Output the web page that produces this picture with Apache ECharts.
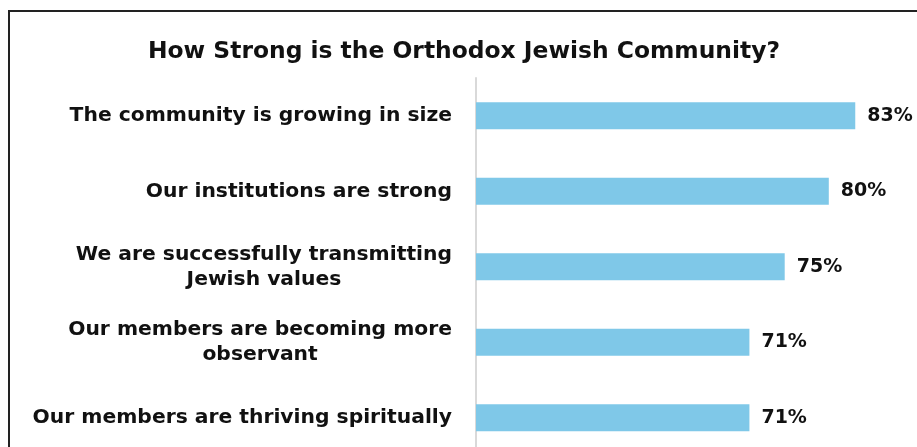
<!DOCTYPE html>
<html>
<head>
<meta charset="utf-8">
<script src="https://cdn.jsdelivr.net/npm/echarts@6/dist/echarts.min.js"></script>
<style>
html,body{margin:0;padding:0;background:#fff;overflow:hidden;width:917px;height:447px;}
#frame{position:absolute;left:8px;top:10px;width:1000px;height:500px;border-left:2px solid #222;border-top:2px solid #222;box-sizing:border-box;}
#chart{position:absolute;left:0;top:0;width:917px;height:460px;}
</style>
</head>
<body>
<div id="frame"></div>
<div id="chart"></div>
<script>
const titleText = 'How Strong is the Orthodox Jewish Community?';
const categories = [
  'The community is growing in size',
  'Our institutions are strong',
  'We are successfully transmitting\nJewish values',
  'Our members are becoming more\nobservant',
  'Our members are thriving spiritually'
];
const values = [83, 80, 75, 71, 71];
const xMin = 40, xMax = 90;

const FONT = '"DejaVu Sans"';
const chart = echarts.init(document.getElementById('chart'), null, {renderer: 'canvas'});
chart.setOption({
  backgroundColor: 'transparent',
  animation: false,
  title: {
    text: titleText,
    left: 459, top: 35, textAlign: 'center',
    textStyle: {fontFamily: FONT, fontWeight: 'bold', fontSize: 23.4, color: '#111'}
  },
  grid: {left: 476, right: 0, top: 78, bottom: 4.5, containLabel: false},
  xAxis: {type: 'value', min: xMin, max: xMax, show: false, splitLine: {show: false}},
  yAxis: {
    type: 'category', inverse: true, data: categories,
    axisLine: {show: true, lineStyle: {color: '#d9d9d9', width: 2}},
    axisTick: {show: false},
    axisLabel: {
      margin: 24,
      formatter: v => v.split('\n').map(s => '{c|' + s + '}').join('\n'),
      rich: {c: {align: 'center', fontFamily: FONT, fontWeight: 'bold', fontSize: 20.3, color: '#111', lineHeight: 25}}
    }
  },
  series: [{
    type: 'bar', data: values, barWidth: 27,
    itemStyle: {color: '#7fc8e8'},
    label: {show: true, position: 'right', distance: 12, formatter: p => p.value + '%',
      fontFamily: FONT, fontWeight: 'bold', fontSize: 19, color: '#111'}
  }]
});
</script>
</body>
</html>
